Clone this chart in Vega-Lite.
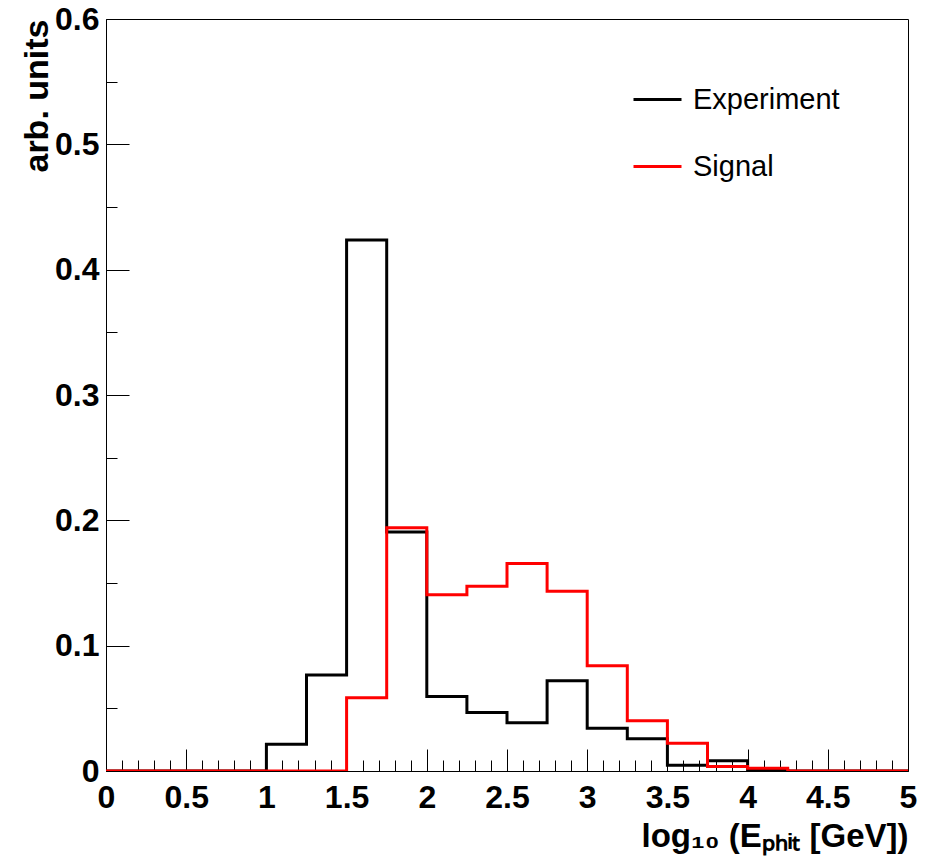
{
  "$schema": "https://vega.github.io/schema/vega-lite/v6.json",
  "width": 802,
  "height": 752,
  "autosize": {"type": "none"},
  "padding": {"left": 106, "top": 19, "right": 25, "bottom": 94},
  "background": "white",
  "config": {
    "font": "Liberation Sans",
    "view": {"stroke": "black", "strokeWidth": 1},
    "axis": {"grid": false, "domainColor": "black", "domainWidth": 1, "tickColor": "black", "tickWidth": 1, "labelColor": "black", "titleColor": "black"}
  },
  "data": {
    "values": [
      {"x": 0, "y": 0, "series": "Experiment"},
      {"x": 0.25, "y": 0, "series": "Experiment"},
      {"x": 0.5, "y": 0, "series": "Experiment"},
      {"x": 0.75, "y": 0, "series": "Experiment"},
      {"x": 1.0, "y": 0.0213, "series": "Experiment"},
      {"x": 1.25, "y": 0.0766, "series": "Experiment"},
      {"x": 1.5, "y": 0.4237, "series": "Experiment"},
      {"x": 1.75, "y": 0.1907, "series": "Experiment"},
      {"x": 2.0, "y": 0.0595, "series": "Experiment"},
      {"x": 2.25, "y": 0.0466, "series": "Experiment"},
      {"x": 2.5, "y": 0.0385, "series": "Experiment"},
      {"x": 2.75, "y": 0.0721, "series": "Experiment"},
      {"x": 3.0, "y": 0.0341, "series": "Experiment"},
      {"x": 3.25, "y": 0.0258, "series": "Experiment"},
      {"x": 3.5, "y": 0.0045, "series": "Experiment"},
      {"x": 3.75, "y": 0.0082, "series": "Experiment"},
      {"x": 4.0, "y": 0.0006, "series": "Experiment"},
      {"x": 4.25, "y": 0, "series": "Experiment"},
      {"x": 4.5, "y": 0, "series": "Experiment"},
      {"x": 4.75, "y": 0, "series": "Experiment"},
      {"x": 5.0, "y": 0, "series": "Experiment"},
      {"x": 0, "y": 0, "series": "Signal"},
      {"x": 0.25, "y": 0, "series": "Signal"},
      {"x": 0.5, "y": 0, "series": "Signal"},
      {"x": 0.75, "y": 0, "series": "Signal"},
      {"x": 1.0, "y": 0, "series": "Signal"},
      {"x": 1.25, "y": 0, "series": "Signal"},
      {"x": 1.5, "y": 0.0585, "series": "Signal"},
      {"x": 1.75, "y": 0.1941, "series": "Signal"},
      {"x": 2.0, "y": 0.1407, "series": "Signal"},
      {"x": 2.25, "y": 0.1474, "series": "Signal"},
      {"x": 2.5, "y": 0.1655, "series": "Signal"},
      {"x": 2.75, "y": 0.1434, "series": "Signal"},
      {"x": 3.0, "y": 0.0839, "series": "Signal"},
      {"x": 3.25, "y": 0.0400, "series": "Signal"},
      {"x": 3.5, "y": 0.0221, "series": "Signal"},
      {"x": 3.75, "y": 0.0035, "series": "Signal"},
      {"x": 4.0, "y": 0.0022, "series": "Signal"},
      {"x": 4.25, "y": 0, "series": "Signal"},
      {"x": 4.5, "y": 0, "series": "Signal"},
      {"x": 4.75, "y": 0, "series": "Signal"},
      {"x": 5.0, "y": 0, "series": "Signal"}
    ]
  },
  "mark": {"type": "line", "interpolate": "step-after", "strokeWidth": 3, "clip": true},
  "encoding": {
    "x": {
      "field": "x", "type": "quantitative",
      "scale": {"domain": [0, 5], "nice": false, "zero": false},
      "axis": {
        "values": [0,0.1,0.2,0.3,0.4,0.5,0.6,0.7,0.8,0.9,1,1.1,1.2,1.3,1.4,1.5,1.6,1.7,1.8,1.9,2,2.1,2.2,2.3,2.4,2.5,2.6,2.7,2.8,2.9,3,3.1,3.2,3.3,3.4,3.5,3.6,3.7,3.8,3.9,4,4.1,4.2,4.3,4.4,4.5,4.6,4.7,4.8,4.9,5],
        "tickSize": {"condition": {"test": "round(datum.value*10) % 5 === 0", "value": -22}, "value": -11},
        "labelExpr": "round(datum.value*10) % 5 === 0 ? format(datum.value, '~g') : ''",
        "labelFlush": false,
        "labelOverlap": false,
        "labelFont": "Liberation Sans",
        "labelFontWeight": "bold",
        "labelFontSize": 32,
        "labelPadding": 33,
        "title": "log₁₀ (Eₚₕᵢₜ [GeV])",
        "titleFont": "Liberation Sans",
        "titleFontWeight": "bold",
        "titleFontSize": 33,
        "titleAlign": "right",
        "titleAnchor": "end",
        "titleBaseline": "alphabetic",
        "titleX": 802,
        "titleY": 75
      }
    },
    "y": {
      "field": "y", "type": "quantitative",
      "scale": {"domain": [0, 0.6], "nice": false},
      "axis": {
        "values": [0,0.05,0.1,0.15,0.2,0.25,0.3,0.35,0.4,0.45,0.5,0.55,0.6],
        "tickSize": {"condition": {"test": "round(datum.value*100) % 10 === 0", "value": -23}, "value": -11},
        "labelExpr": "round(datum.value*100) % 10 === 0 ? format(datum.value, '~g') : ''",
        "labelOverlap": false,
        "labelFlush": false,
        "labelFont": "Liberation Sans",
        "labelFontWeight": "bold",
        "labelFontSize": 32,
        "labelPadding": 30,
        "title": "arb. units",
        "titleFont": "Liberation Sans",
        "titleFontWeight": "bold",
        "titleFontSize": 34,
        "titleAngle": -90,
        "titleAlign": "right",
        "titleBaseline": "alphabetic",
        "titleX": -59,
        "titleY": 0
      }
    },
    "color": {
      "field": "series", "type": "nominal",
      "scale": {"domain": ["Experiment", "Signal"], "range": ["#000000", "#ff0000"]},
      "legend": {
        "orient": "none",
        "legendX": 526,
        "legendY": 55,
        "title": null,
        "symbolType": "stroke",
        "symbolSize": 2304,
        "symbolStrokeWidth": 3,
        "labelFont": "Liberation Sans",
        "labelFontSize": 29,
        "labelColor": "black",
        "labelOffset": 10,
        "rowPadding": 26,
        "padding": 0
      }
    }
  }
}
